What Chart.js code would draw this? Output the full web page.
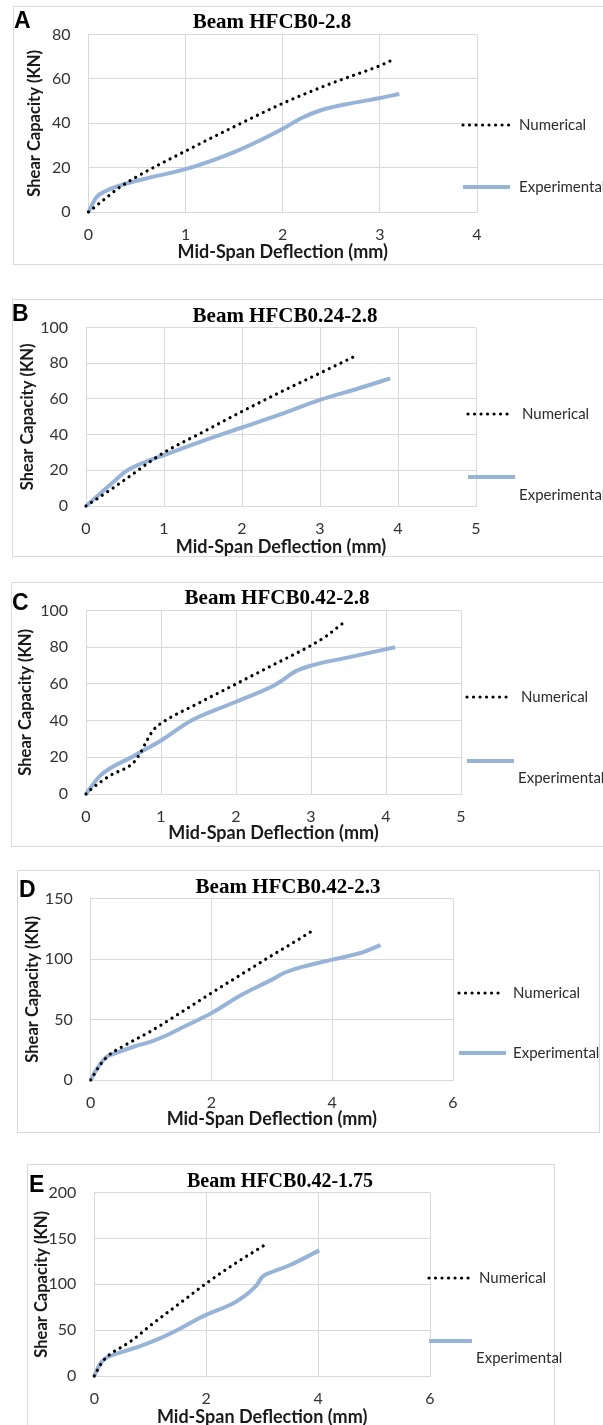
<!DOCTYPE html>
<html><head><meta charset="utf-8">
<script src="https://cdn.jsdelivr.net/npm/chart.js@4.4.1/dist/chart.umd.min.js"></script>
<style>
html,body{margin:0;padding:0;width:603px;height:1425px;overflow:hidden;background:#fff;}
#page{position:relative;width:603px;height:1425px;overflow:hidden;background:#fff;}
.frame{position:absolute;border:1px solid #d9d9d9;box-sizing:border-box;}
canvas{position:absolute;left:0;}
</style></head><body><div id="page"></div>
<script>
// ---------- data ----------
const panelLetters = ['A', 'B', 'C', 'D', 'E'];
const panelTitles = ['Beam HFCB0-2.8', 'Beam HFCB0.24-2.8', 'Beam HFCB0.42-2.8', 'Beam HFCB0.42-2.3', 'Beam HFCB0.42-1.75'];
const seriesNames = ['Numerical', 'Experimental'];
const xAxisTitle = 'Mid-Span Deflection (mm)';
const yAxisTitle = 'Shear Capacity (KN)';
const xMaxes = [4, 5, 5, 6, 6];
const xSteps = [1, 1, 1, 2, 2];
const yMaxes = [80, 100, 100, 150, 200];
const ySteps = [20, 20, 20, 50, 50];

const numDeflA = [0, 0.1, 0.2, 0.3, 0.5, 1, 1.5, 2, 2.5, 3, 3.15];
const numLoadA = [0, 3.5, 7, 10.5, 16, 27.5, 38.5, 49, 58, 66, 69];
const expDeflA = [0, 0.08, 0.19, 0.32, 0.63, 1, 1.5, 1.8, 2, 2.2, 2.4, 2.7, 3, 3.2];
const expLoadA = [0, 6.5, 9.7, 11.9, 15.5, 19.3, 27, 33, 37.5, 42.5, 46, 49, 51.4, 53.2];

const numDeflB = [0, 0.3, 0.6, 0.8, 1, 1.5, 2, 2.5, 3, 3.45];
const numLoadB = [0, 8.7, 17.9, 24.2, 30, 41.5, 53, 64, 74.5, 84];
const expDeflB = [0, 0.18, 0.35, 0.52, 0.75, 1, 1.5, 2, 2.5, 3, 3.5, 3.9];
const expLoadB = [0, 6.9, 13.5, 19.7, 24.5, 28.5, 36.5, 44, 51.5, 59.5, 66, 71.5];

const numDeflC = [0, 0.05, 0.32, 0.63, 0.72, 0.81, 0.9, 1, 1.5, 2, 2.5, 3, 3.2, 3.42];
const numLoadC = [0, 2, 10, 17, 22, 29, 35, 38.5, 49.5, 60, 70.5, 81, 86, 93];
const expDeflC = [0, 0.19, 0.63, 1, 1.4, 2, 2.5, 2.6, 2.8, 3, 3.5, 4.12];
const expLoadC = [0, 10, 20.6, 29.2, 40, 50.3, 59, 61.5, 67, 70, 74.5, 80];

const numDeflD = [0, 0.15, 0.29, 0.54, 1, 1.5, 2, 2.5, 3, 3.5, 3.69];
const numLoadD = [0, 12, 20, 28, 40.5, 56, 72, 87.5, 103, 118, 124];
const expDeflD = [0, 0.1, 0.26, 0.4, 0.71, 1, 1.26, 1.5, 1.81, 2, 2.5, 3, 3.2, 3.5, 4, 4.5, 4.8];
const expLoadD = [0, 9, 19, 22, 27.5, 31.8, 37, 43, 50.5, 55.3, 70.5, 83, 88.5, 93.5, 99.5, 105.5, 111.5];

const numDeflE = [0, 0.04, 0.16, 0.28, 0.5, 0.7, 1, 1.5, 2, 2.5, 3.05];
const numLoadE = [0, 4.5, 16.7, 23.7, 32, 40, 55, 78, 101, 122, 143];
const expDeflE = [0, 0.1, 0.22, 0.46, 0.82, 1.17, 1.53, 1.89, 2, 2.5, 2.7, 2.9, 3, 3.2, 3.5, 4.02];
const expLoadE = [0, 13, 20, 25.5, 32.5, 41, 51.6, 63.5, 66.7, 80, 88, 99, 108, 114, 121, 137];

const numDefl = [numDeflA, numDeflB, numDeflC, numDeflD, numDeflE];
const numLoad = [numLoadA, numLoadB, numLoadC, numLoadD, numLoadE];
const expDefl = [expDeflA, expDeflB, expDeflC, expDeflD, expDeflE];
const expLoad = [expLoadA, expLoadB, expLoadC, expLoadD, expLoadE];

// ---------- layout (page pixel coordinates) ----------
const layouts = [
  {frame:{l:13,t:6,r:640,b:265}, ct:7, ch:258, L:88.5, R:477, T:30, B:212, yTitleX:35, xTitleY:252,
   letter:{x:14,y:28}, title:{x:272,y:28.3,size:21},
   leg:[{x1:463,x2:510,y:125,tx:519,ty:125},{x1:463,x2:510,y:187,tx:519,ty:187}]},
  {frame:{l:11.5,t:299,r:640,b:557}, ct:300, ch:257, L:86, R:476, T:323, B:506, yTitleX:27.5, xTitleY:547,
   letter:{x:12,y:321}, title:{x:285,y:321.5,size:21},
   leg:[{x1:468,x2:513,y:414,tx:522,ty:414},{x1:468,x2:515,y:477,tx:519,ty:495}]},
  {frame:{l:11,t:582,r:640,b:847}, ct:583, ch:263, L:86, R:461, T:603.3, B:794, yTitleX:26, xTitleY:833.5,
   letter:{x:12,y:610}, title:{x:277,y:604,size:21},
   leg:[{x1:467,x2:511,y:697,tx:521,ty:697},{x1:467,x2:514,y:761,tx:518,ty:778}]},
  {frame:{l:17,t:870,r:600,b:1133}, ct:871, ch:262, L:90.7, R:453, T:892.3, B:1080, yTitleX:33, xTitleY:1119,
   letter:{x:19,y:897}, title:{x:288,y:893,size:21},
   leg:[{x1:459,x2:504,y:993,tx:513,ty:993},{x1:459,x2:506,y:1053,tx:513,ty:1053}]},
  {frame:{l:27,t:1164,r:555,b:1440}, ct:1165, ch:270, L:94.3, R:430, T:1185, B:1376, yTitleX:41.7, xTitleY:1416.7,
   letter:{x:29,y:1192}, title:{x:280,y:1187,size:20},
   leg:[{x1:429,x2:470,y:1278,tx:479,ty:1278},{x1:429,x2:472,y:1341,tx:476,ty:1358}]}
];

const TITLE_HALF = 8.5; // half line height of axis titles (lineHeight 1)

const overlay = {
  id: 'overlay',
  afterDraw(chart, args, opts) {
    const ctx = chart.ctx, p = opts.p, oy = p.ct;
    ctx.save();
    ctx.fillStyle = '#000';
    ctx.textBaseline = 'alphabetic';
    ctx.textAlign = 'left';
    ctx.font = 'bold 23px "Liberation Sans", Arial, sans-serif';
    ctx.fillText(opts.letter, p.letter.x, p.letter.y - oy);
    ctx.textAlign = 'center';
    ctx.font = 'bold ' + p.title.size + 'px "Liberation Serif", "Times New Roman", serif';
    ctx.fillText(opts.title, p.title.x, p.title.y - oy);
    const ds = chart.data.datasets;
    p.leg.forEach((lg, i) => {
      const d = ds[i];
      ctx.beginPath();
      ctx.setLineDash(d.borderDash || []);
      ctx.lineCap = d.borderCapStyle || 'butt';
      ctx.strokeStyle = d.borderColor;
      ctx.lineWidth = d.borderWidth;
      ctx.moveTo(lg.x1, lg.y - oy);
      ctx.lineTo(lg.x2, lg.y - oy);
      ctx.stroke();
      ctx.setLineDash([]);
      ctx.font = '15px Lato, sans-serif';
      ctx.fillStyle = '#2b2b2b';
      ctx.textAlign = 'left';
      ctx.textBaseline = 'middle';
      ctx.fillText(d.label, lg.tx, lg.ty - oy);
    });
    ctx.restore();
  }
};

const page = document.getElementById('page');
Chart.defaults.font.family = 'Lato, sans-serif';

layouts.forEach((p, i) => {
  const f = document.createElement('div');
  f.className = 'frame';
  f.style.left = p.frame.l + 'px'; f.style.top = p.frame.t + 'px';
  f.style.width = (p.frame.r - p.frame.l) + 'px'; f.style.height = (p.frame.b - p.frame.t) + 'px';
  page.appendChild(f);

  const c = document.createElement('canvas');
  c.width = 603; c.height = p.ch;
  c.style.width = '603px'; c.style.height = p.ch + 'px';
  c.style.top = p.ct + 'px';
  page.appendChild(c);

  const pl = p.yTitleX - TITLE_HALF;
  const scaleBottom = p.xTitleY + TITLE_HALF;
  const pts = (xs, ys) => xs.map((x, k) => ({x: x, y: ys[k]}));

  new Chart(c, {
    type: 'scatter',
    data: {
      datasets: [
        {label: seriesNames[0], data: pts(numDefl[i], numLoad[i]), showLine: true,
         borderColor: '#000000', borderWidth: 3.2, borderDash: [0.01, 6.5], borderCapStyle: 'round',
         pointRadius: 0, pointHoverRadius: 0, cubicInterpolationMode: 'monotone', clip: false},
        {label: seriesNames[1], data: pts(expDefl[i], expLoad[i]), showLine: true,
         borderColor: '#97b4d8', borderWidth: 4, borderCapStyle: 'butt', borderJoinStyle: 'round',
         pointRadius: 0, pointHoverRadius: 0, cubicInterpolationMode: 'monotone', clip: false}
      ]
    },
    options: {
      responsive: false, animation: false, devicePixelRatio: 1,
      events: [],
      layout: {padding: {left: pl, right: 603 - p.R, top: p.T - p.ct, bottom: (p.ct + p.ch) - scaleBottom}},
      plugins: {legend: {display: false}, tooltip: {enabled: false},
                overlay: {p: p, letter: panelLetters[i], title: panelTitles[i]}},
      scales: {
        x: {type: 'linear', min: 0, max: xMaxes[i],
            ticks: {stepSize: xSteps[i], padding: 13.4, color: '#333', font: {family: 'Lato', size: 16}},
            grid: {color: '#d9d9d9', lineWidth: 1, drawTicks: false},
            border: {color: '#d9d9d9'},
            title: {display: true, text: xAxisTitle, color: '#1a1a1a', padding: 0,
                    font: {family: 'Lato', weight: 'bold', size: 18, lineHeight: 0.944}},
            afterFit(s) { s.height = scaleBottom - p.B; }},
        y: {type: 'linear', min: 0, max: yMaxes[i],
            ticks: {stepSize: ySteps[i], padding: 18, color: '#333', font: {family: 'Lato', size: 16}},
            grid: {color: '#d9d9d9', lineWidth: 1, drawTicks: false},
            border: {color: '#d9d9d9'},
            title: {display: true, text: yAxisTitle, color: '#1a1a1a', padding: 0,
                    font: {family: 'Lato', weight: 'bold', size: 16.5, lineHeight: 1.03}},
            afterFit(s) { s.width = p.L - pl; }}
      }
    },
    plugins: [overlay]
  });
});
</script></body></html>
